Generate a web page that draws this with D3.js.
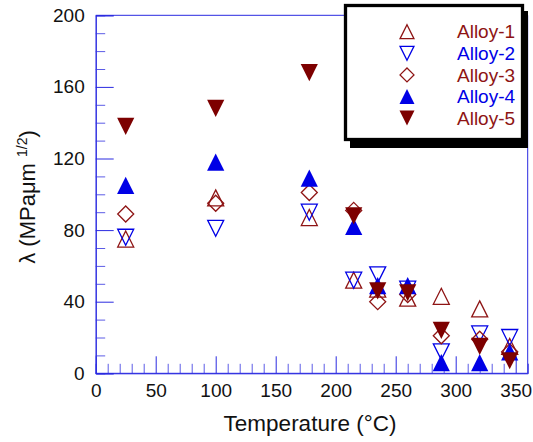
<!DOCTYPE html>
<html>
<head>
<meta charset="utf-8">
<script src="https://cdn.jsdelivr.net/npm/d3@7"></script>
<style>
  body { margin: 0; background: #fff; }
  svg { display: block; font-family: "Liberation Sans", Arial, sans-serif; }
</style>
</head>
<body>
<div id="canvas"></div>
<script>
// values
var temps = [25, 100, 178, 215, 235, 260, 288, 320, 345];
var alloy1 = [75, 98, 87, 52, 47, 42, 43, 36, 15];
var alloy2 = [76, 81, 90, 52, 55, 47, 12, 22, 20];
var alloy3 = [89, 95, 101, 91, 40, 44, 21, 19, 12];
var alloy4 = [105, 118, 109, 82, 49, 49, 6, 6, 12];
var alloy5 = [138, 148, 168, 88, 46, 45, 24, 15, 7];
var seriesNames = ["Alloy-1", "Alloy-2", "Alloy-3", "Alloy-4", "Alloy-5"];
var yMajor = [0, 40, 80, 120, 160, 200];
var xMajor = [0, 50, 100, 150, 200, 250, 300, 350];

var red = "#7d0000", redLine = "#8e1414", blue = "#0000e6", axisBlue = "#2a2ae0";

var w = 533, h = 442;
var svg = d3.select("#canvas").append("svg").attr("width", w).attr("height", h);

var x = d3.scaleLinear().domain([0, 360]).range([95.7, 527.7]);
var y = d3.scaleLinear().domain([0, 200]).range([373.3, 15.3]);

// marker shapes
function triUp(s) { return "M0," + (-s) + "L" + s + "," + s + "L" + (-s) + "," + s + "Z"; }
function triDown(s) { return "M0," + s + "L" + s + "," + (-s) + "L" + (-s) + "," + (-s) + "Z"; }
function diamond(s) { return "M0," + (-s) + "L" + s + ",0L0," + s + "L" + (-s) + ",0Z"; }

var styles = [
  { shape: triUp, size: 8, fill: "none", stroke: redLine, text: redLine },
  { shape: triDown, size: 8, fill: "none", stroke: blue, text: blue },
  { shape: diamond, size: 8, fill: "none", stroke: redLine, text: redLine },
  { shape: triUp, size: 8.6, fill: blue, stroke: "none", text: blue },
  { shape: triDown, size: 8.6, fill: red, stroke: "none", text: redLine }
];
var allSeries = [alloy1, alloy2, alloy3, alloy4, alloy5];

// axes frame
var gAx = svg.append("g").attr("class", "axes");
gAx.append("line").attr("x1", x(0)).attr("x2", x(360)).attr("y1", y(200)).attr("y2", y(200))
  .attr("stroke", axisBlue);
gAx.append("line").attr("x1", x(360)).attr("x2", x(360)).attr("y1", y(200)).attr("y2", y(0))
  .attr("stroke", axisBlue);

var yMinor = d3.range(0, 201, 10).filter(function (v) { return yMajor.indexOf(v) < 0; });
var xMinor = d3.range(0, 361, 10).filter(function (v) { return xMajor.indexOf(v) < 0; });

var yAxisMinor = svg.append("g").attr("class", "minor").attr("transform", "translate(" + x(0) + ",0)")
  .call(d3.axisLeft(y).tickValues(yMinor).tickSize(-9.5).tickFormat(""));
var yAxis = svg.append("g").attr("transform", "translate(" + x(0) + ",0)")
  .call(d3.axisLeft(y).tickValues(yMajor).tickSize(-18).tickPadding(11));
var xAxisMinor = svg.append("g").attr("class", "minor").attr("transform", "translate(0," + y(0) + ")")
  .call(d3.axisBottom(x).tickValues(xMinor).tickSize(-9.5).tickFormat(""));
var xAxis = svg.append("g").attr("transform", "translate(0," + y(0) + ")")
  .call(d3.axisBottom(x).tickValues(xMajor).tickSize(-17).tickPadding(10));

svg.selectAll(".domain").attr("stroke", axisBlue);
svg.selectAll(".tick line").attr("stroke", axisBlue);
svg.selectAll(".minor .tick line").attr("stroke", "#5c5ce6");
svg.selectAll(".tick text").attr("font-size", 19).attr("fill", "#111")
  .attr("font-family", "Liberation Sans, Arial, sans-serif");
xAxis.select(".domain").attr("d", "M" + x(0) + ",0H" + x(360));

// axis titles
svg.append("text").attr("x", 310).attr("y", 431).attr("text-anchor", "middle")
  .attr("font-size", 22.5).attr("fill", "#111").text("Temperature (°C)");
var yt = svg.append("text").attr("transform", "translate(35,197) rotate(-90)")
  .attr("text-anchor", "middle").attr("font-size", 22).attr("fill", "#111");
yt.append("tspan").text("λ (MPaμm ");
yt.append("tspan").attr("font-size", 14).attr("dy", -8).text("1/2");
yt.append("tspan").attr("dy", 8).text(")");

// points
allSeries.forEach(function (vals, i) {
  var st = styles[i];
  svg.append("g").selectAll("path").data(vals).join("path")
    .attr("transform", function (d, j) { return "translate(" + x(temps[j]) + "," + y(d) + ")"; })
    .attr("d", st.shape(st.size))
    .attr("fill", st.fill)
    .attr("stroke", st.stroke)
    .attr("stroke-width", 1.3);
});

// legend
var lg = svg.append("g");
lg.append("rect").attr("x", 350).attr("y", 11).attr("width", 178).attr("height", 137).attr("fill", "#000");
lg.append("rect").attr("x", 345.5).attr("y", 5.5).attr("width", 177).attr("height", 134)
  .attr("fill", "#fff").attr("stroke", "#000").attr("stroke-width", 3.3);
seriesNames.forEach(function (name, i) {
  var st = styles[i];
  var cy = 31.7 + i * 21.6;
  lg.append("path").attr("transform", "translate(407," + cy + ")")
    .attr("d", st.shape(st.size * 0.87))
    .attr("fill", st.fill).attr("stroke", st.stroke).attr("stroke-width", 1.3);
  lg.append("text").attr("x", 457).attr("y", cy + 6.7).attr("font-size", 19)
    .attr("fill", st.text).text(name);
});
</script>
</body>
</html>
